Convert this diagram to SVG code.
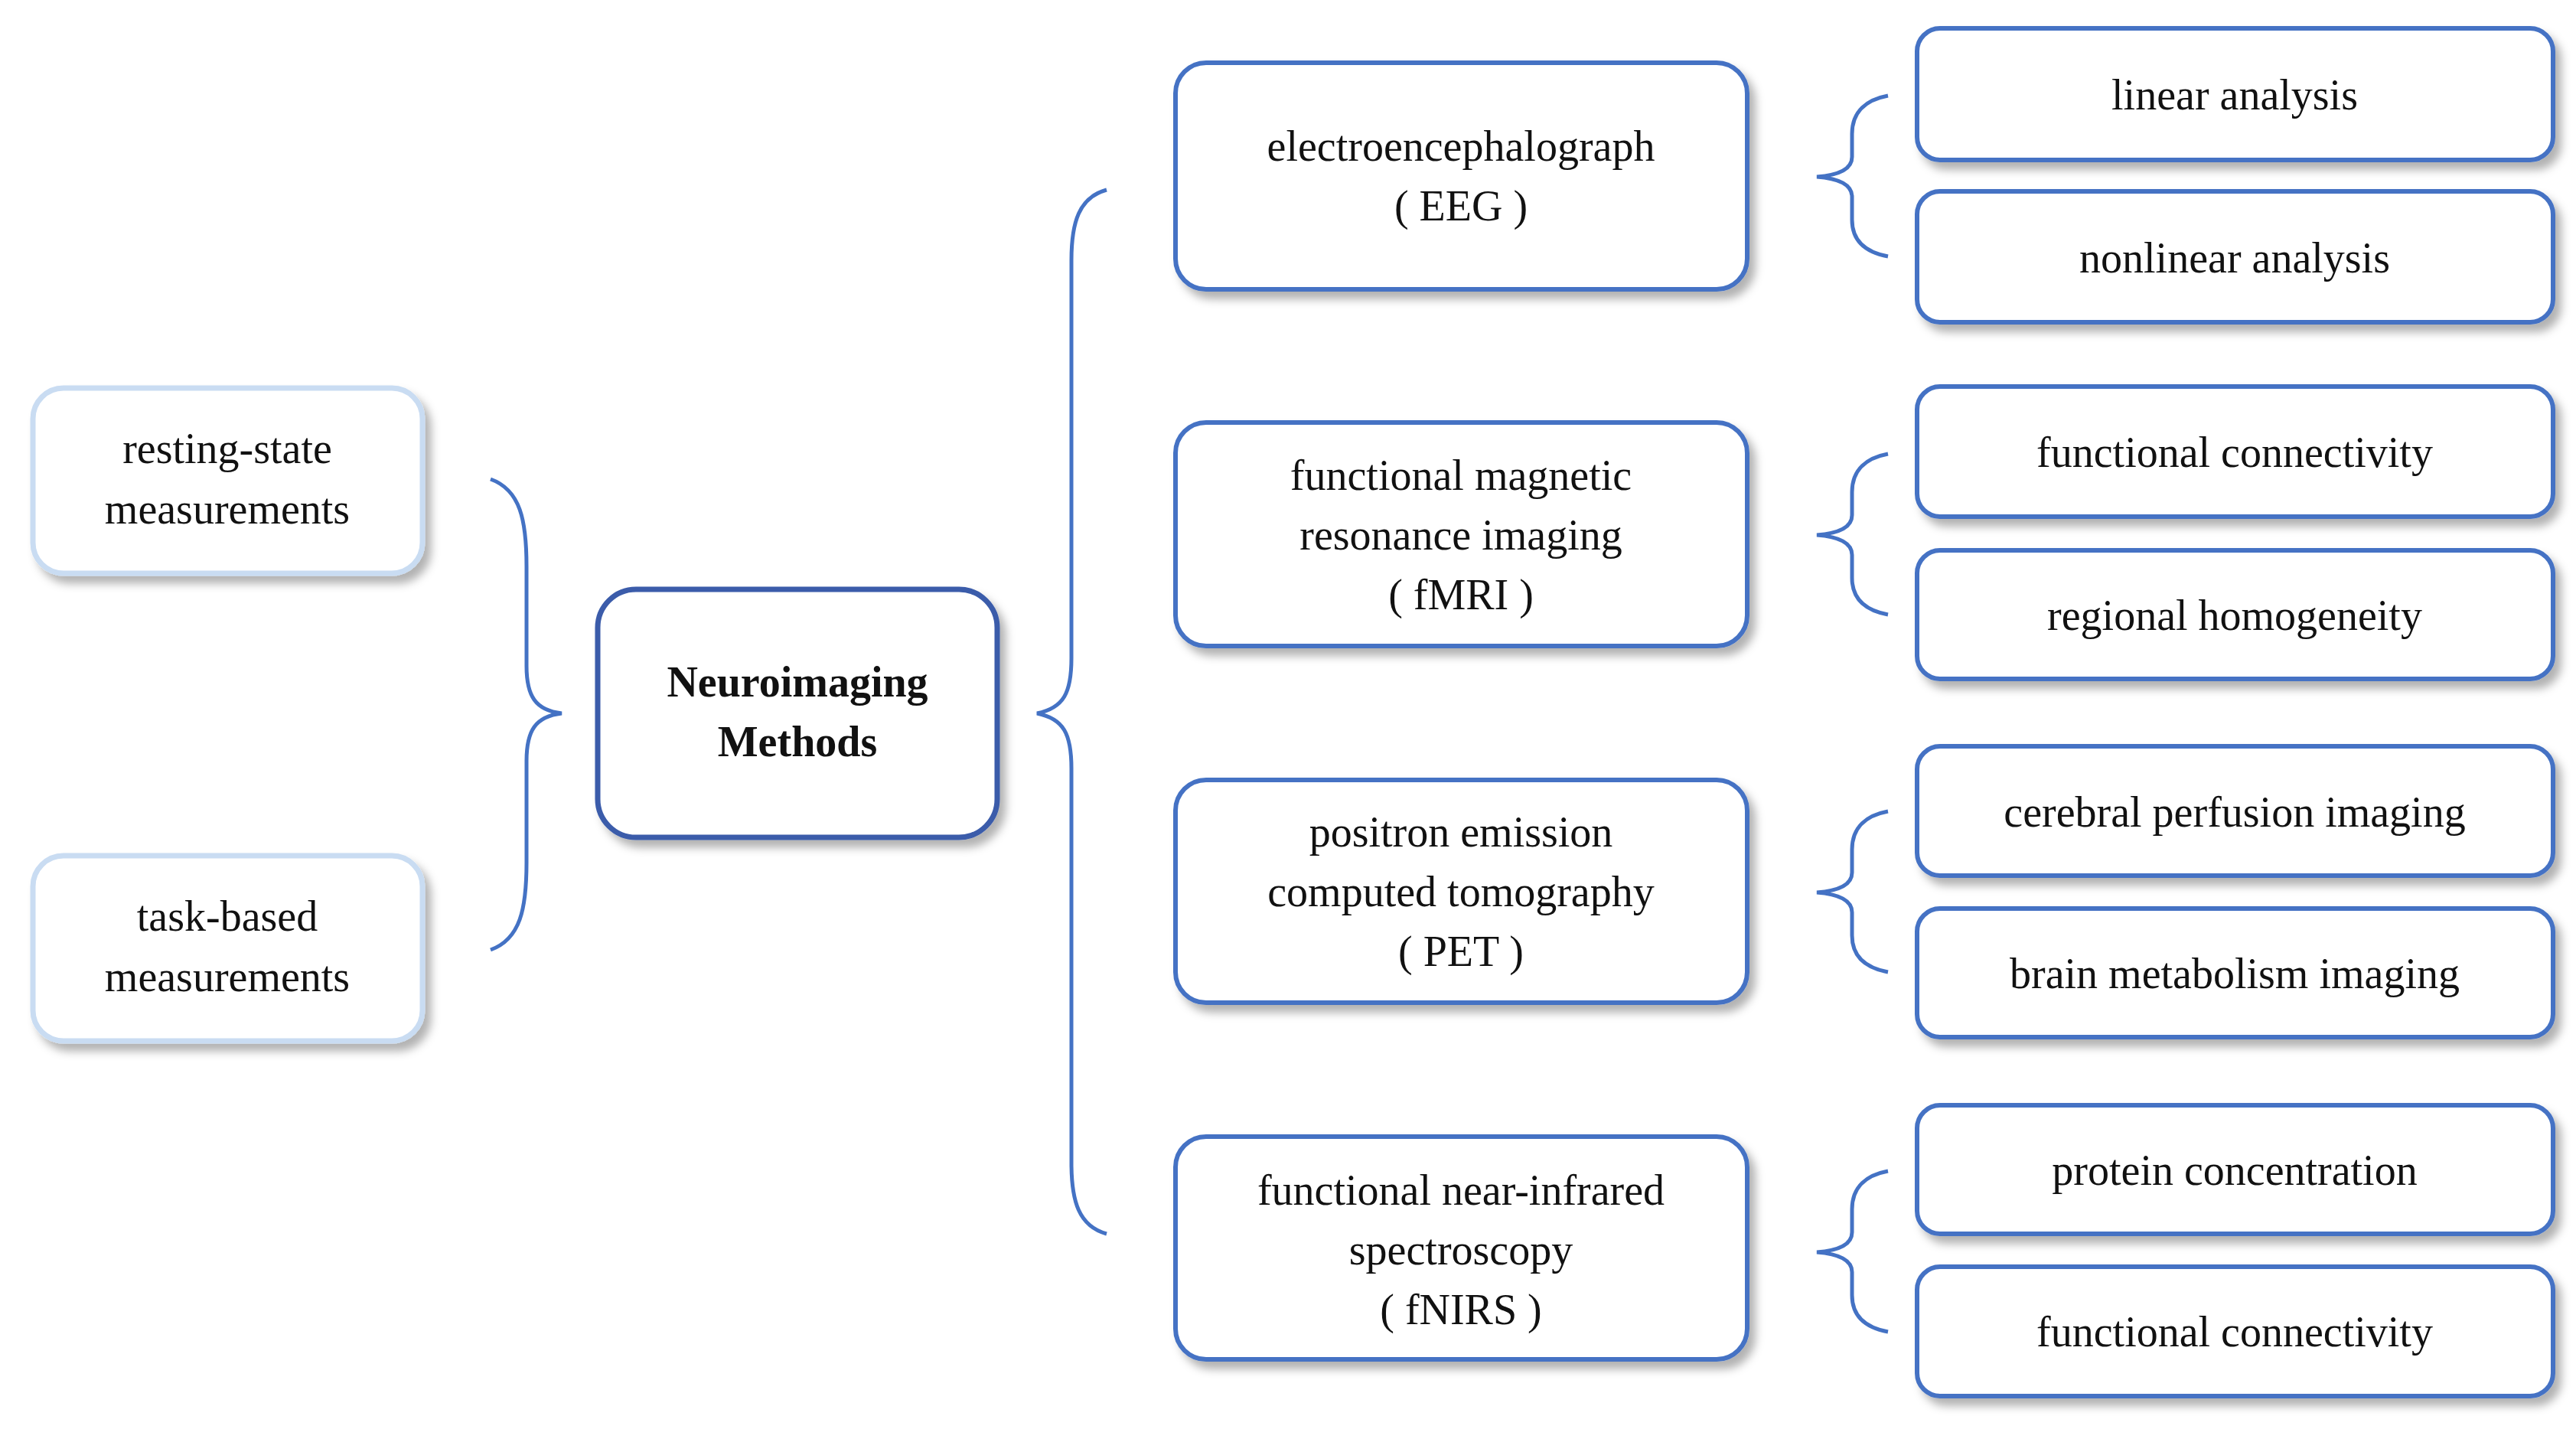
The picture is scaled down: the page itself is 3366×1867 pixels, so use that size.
<svg xmlns="http://www.w3.org/2000/svg" width="3366" height="1867" viewBox="0 0 3366 1867">
<defs>
<filter id="sh" x="-10%" y="-10%" width="130%" height="130%"><feDropShadow dx="8" dy="10" stdDeviation="6" flood-color="#000" flood-opacity="0.3"/></filter>
</defs>
<style>
.b{fill:#fff;stroke:#4472C4;stroke-width:6;filter:url(#sh)}
.l{fill:#fff;stroke:#C9DCF2;stroke-width:7;filter:url(#sh)}
.c{fill:#fff;stroke:#3A5BAA;stroke-width:7;filter:url(#sh)}
text{font-family:"Liberation Serif","Times New Roman",serif;font-size:56px;fill:#111;text-anchor:middle}
.br{fill:none;stroke:#4472C4;stroke-width:5}
</style>
<rect width="3366" height="1867" fill="#fff"/>
<g id="resting"><rect class="l" x="43" y="507" width="509" height="242" rx="40"/><text x="297" y="605">resting-state</text><text x="297" y="684">measurements</text></g>
<g id="task"><rect class="l" x="43" y="1118" width="509" height="242" rx="40"/><text x="297" y="1216">task-based</text><text x="297" y="1295">measurements</text></g>
<g id="center"><rect class="c" x="781" y="770" width="522" height="324" rx="50"/><text x="1042" y="910" font-weight="bold">Neuroimaging</text><text x="1042" y="988" font-weight="bold">Methods</text></g>
<g id="eeg"><rect class="b" x="1536" y="82" width="747" height="296" rx="40"/><text x="1909" y="210">electroencephalograph</text><text x="1909" y="288">( EEG )</text></g>
<g id="fmri"><rect class="b" x="1536" y="552" width="747" height="292" rx="40"/><text x="1909" y="640">functional magnetic</text><text x="1909" y="718">resonance imaging</text><text x="1909" y="796">( fMRI )</text></g>
<g id="pet"><rect class="b" x="1536" y="1019" width="747" height="291" rx="40"/><text x="1909" y="1106">positron emission</text><text x="1909" y="1184">computed tomography</text><text x="1909" y="1262">( PET )</text></g>
<g id="fnirs"><rect class="b" x="1536" y="1485" width="747" height="291" rx="40"/><text x="1909" y="1574">functional near-infrared</text><text x="1909" y="1652">spectroscopy</text><text x="1909" y="1730">( fNIRS )</text></g>
<g id="r1"><rect class="b" x="2505" y="37" width="831" height="172" rx="30"/><text x="2920" y="143">linear analysis</text></g>
<g id="r2"><rect class="b" x="2505" y="250" width="831" height="171" rx="30"/><text x="2920" y="356">nonlinear analysis</text></g>
<g id="r3"><rect class="b" x="2505" y="505" width="831" height="170" rx="30"/><text x="2920" y="610">functional connectivity</text></g>
<g id="r4"><rect class="b" x="2505" y="719" width="831" height="168" rx="30"/><text x="2920" y="823">regional homogeneity</text></g>
<g id="r5"><rect class="b" x="2505" y="975" width="831" height="169" rx="30"/><text x="2920" y="1080">cerebral perfusion imaging</text></g>
<g id="r6"><rect class="b" x="2505" y="1187" width="831" height="168" rx="30"/><text x="2920" y="1291">brain metabolism imaging</text></g>
<g id="r7"><rect class="b" x="2505" y="1444" width="831" height="168" rx="30"/><text x="2920" y="1548">protein concentration</text></g>
<g id="r8"><rect class="b" x="2505" y="1655" width="831" height="169" rx="30"/><text x="2920" y="1759">functional connectivity</text></g>
<g id="connectors">
<path class="br" d="M641,626 C680,640 688,680 688,740 L688,870 C688,910 700,928 734,932 C700,936 688,954 688,994 L688,1127 C688,1187 680,1227 641,1241"/>
<path class="br" d="M1446,248 C1410,258 1400,290 1400,340 L1400,860 C1400,905 1390,925 1355,932 C1390,939 1400,959 1400,1004 L1400,1520 C1400,1570 1410,1602 1446,1612"/>
<path class="br" d="M2467,125 C2440,130 2420,145 2420,175 L2420,205 C2420,222 2400,229 2374,231 C2400,233 2420,240 2420,257 L2420,287 C2420,317 2440,330 2467,335"/>
<path class="br" d="M2467,593 C2440,598 2420,613 2420,643 L2420,673 C2420,690 2400,697 2374,699 C2400,701 2420,708 2420,725 L2420,755 C2420,785 2440,798 2467,803"/>
<path class="br" d="M2467,1060 C2440,1065 2420,1080 2420,1110 L2420,1140 C2420,1157 2400,1164 2374,1166 C2400,1168 2420,1175 2420,1192 L2420,1222 C2420,1252 2440,1265 2467,1270"/>
<path class="br" d="M2467,1530 C2440,1535 2420,1550 2420,1580 L2420,1610 C2420,1627 2400,1634 2374,1636 C2400,1638 2420,1645 2420,1662 L2420,1692 C2420,1722 2440,1735 2467,1740"/>
</g>
</svg>
